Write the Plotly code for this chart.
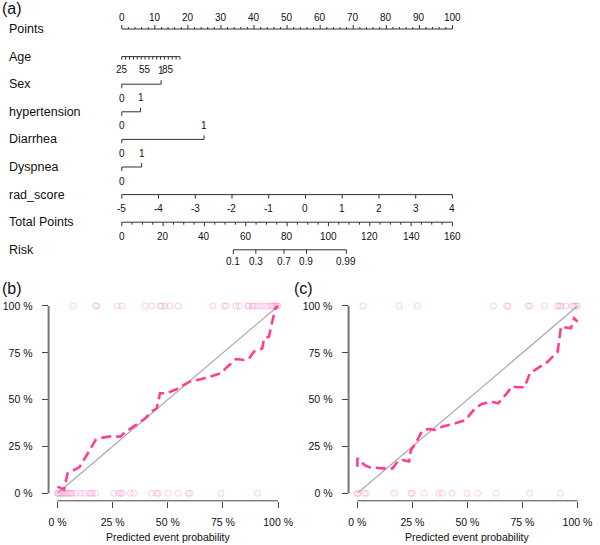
import math
import plotly.graph_objects as go

W, H = 600, 545
FONT = "Liberation Sans, Arial, sans-serif"

# ---------------- Nomogram data ----------------
row_names = ["Points", "Age", "Sex", "hypertension", "Diarrhea", "Dyspnea",
             "rad_score", "Total Points", "Risk"]

points_major = list(range(0, 101, 10))
points_minor = list(range(0, 101, 2))

age_min, age_max = 25, 100
age_max_points = 17.6
age_tick_values = list(range(25, 101, 5))
age_label_values = [25, 55, 85]

binary_vars = ["Sex", "hypertension", "Diarrhea", "Dyspnea"]
binary_points = [11.9, 5.7, 24.9, 6.0]

rad_min, rad_max = -5, 4
rad_ticks = [-5, -4, -3, -2, -1, 0, 1, 2, 3, 4]
rad_max_points = 100

total_points_max = 160
total_major = list(range(0, 161, 20))
total_minor = list(range(0, 161, 5))

risk_ticks = [0.1, 0.3, 0.7, 0.9, 0.99]
risk_labels = ["0.1", "0.3", "0.7", "0.9", "0.99"]
lp_intercept = -8.904
lp_slope = 0.1242

# ---------------- Calibration data ----------------
b_line_x = [0, 0.03, 0.046, 0.10, 0.136, 0.173, 0.19, 0.248, 0.285, 0.31, 0.368, 0.398,
            0.427, 0.45, 0.465, 0.495, 0.547, 0.599, 0.65, 0.696, 0.74, 0.77, 0.809,
            0.846, 0.868, 0.89, 0.928, 0.936, 0.958, 0.973, 0.988, 1.0]
b_line_y = [0.036, 0.02, 0.107, 0.14, 0.21, 0.285, 0.294, 0.306, 0.302, 0.33, 0.374, 0.40,
            0.436, 0.454, 0.534, 0.534, 0.56, 0.596, 0.609, 0.623, 0.64, 0.676, 0.717,
            0.712, 0.72, 0.756, 0.774, 0.827, 0.836, 0.916, 0.988, 1.0]
b_pred_event1 = [0.072, 0.173, 0.178, 0.271, 0.293, 0.398, 0.427, 0.465, 0.472, 0.487, 0.51,
                 0.547, 0.704, 0.756, 0.764, 0.809, 0.824, 0.861, 0.868, 0.883, 0.891, 0.906,
                 0.921, 0.936, 0.951, 0.966, 0.973, 0.981, 0.988, 0.996, 1.0]
b_pred_event0 = [0.0, 0.002, 0.006, 0.012, 0.018, 0.024, 0.031, 0.039, 0.046, 0.054, 0.061,
                 0.069, 0.084, 0.106, 0.121, 0.143, 0.151, 0.158, 0.173, 0.256, 0.278, 0.286,
                 0.293, 0.33, 0.345, 0.427, 0.45, 0.457, 0.502, 0.547, 0.592, 0.6, 0.741, 0.906]

c_line_x = [0.0, 0.0, 0.033, 0.055, 0.115, 0.16, 0.183, 0.205, 0.235, 0.243, 0.265, 0.288,
            0.303, 0.325, 0.355, 0.385, 0.445, 0.49, 0.535, 0.565, 0.61, 0.64, 0.685, 0.70,
            0.73, 0.76, 0.783, 0.82, 0.865, 0.91, 0.925, 0.97, 0.985, 1.0]
c_line_y = [0.142, 0.187, 0.15, 0.139, 0.133, 0.133, 0.17, 0.178, 0.17, 0.23, 0.267, 0.32,
            0.338, 0.343, 0.338, 0.356, 0.374, 0.391, 0.454, 0.477, 0.489, 0.48, 0.543, 0.57,
            0.566, 0.566, 0.64, 0.667, 0.703, 0.756, 0.89, 0.881, 0.934, 0.916]
c_pred_event1 = [0.025, 0.19, 0.273, 0.618, 0.678, 0.685, 0.775, 0.783, 0.85, 0.91, 0.918,
                 0.925, 0.948, 0.978, 0.985, 0.993, 1.0]
c_pred_event0 = [0.0, 0.003, 0.033, 0.04, 0.168, 0.243, 0.25, 0.303, 0.37, 0.385, 0.43,
                 0.498, 0.547, 0.63, 0.783, 0.922]

cal_ticks = [0, 0.25, 0.5, 0.75, 1.0]
cal_ticktext = ["0 %", "25 %", "50 %", "75 %", "100 %"]

# ---------------- layout geometry ----------------
NOMO_X0, NOMO_X1 = 123, 457          # px of Points 0 and 100
PX_PER_PT = (NOMO_X1 - NOMO_X0) / 100.0
x_lo = -NOMO_X0 / PX_PER_PT
x_hi = x_lo + W / PX_PER_PT
ROW_Y0, ROW_DY = 29, 27.6
row_y = [ROW_Y0 + i * ROW_DY for i in range(len(row_names))]

fig = go.Figure()
LINE_C = "#303030"
TXT_C = "#111111"

seg_x, seg_y = [], []
annots = []


def seg(x0, y0, x1, y1):
    seg_x.extend([x0, x1, None])
    seg_y.extend([y0, y1, None])


def label(x, y, t, size=10, xref="x", xanchor="center"):
    annots.append(dict(x=x, y=y, xref=xref, yref="y", text=t, showarrow=False,
                       xanchor=xanchor, yanchor="middle",
                       font=dict(size=size, color=TXT_C, family=FONT)))


# row names
for name, y in zip(row_names, row_y):
    label(7 / W, y, name, size=12.5, xref="paper", xanchor="left")

# Points axis (ticks up, labels above)
y = row_y[0]
seg(0, y, 100, y)
for v in points_minor:
    seg(v, y, v, y - (4 if v in points_major else 2))
for v in points_major:
    label(v, y - 12, str(v))

# Age
y = row_y[1]
age_pts = lambda a: (a - age_min) / (age_max - age_min) * age_max_points
seg(age_pts(age_min), y, age_pts(age_max), y)
for a in age_tick_values:
    seg(age_pts(a), y, age_pts(a), y + 3)
for a in age_label_values:
    label(age_pts(a), y + 13, str(a))

# binary variables
for name, pts in zip(binary_vars, binary_points):
    y = row_y[row_names.index(name)]
    seg(0, y, pts, y)
    seg(0, y, 0, y + 4)
    seg(pts, y, pts, y - 4)
    label(0, y + 14, "0")
    label(pts, y - 14, "1")

# rad_score
y = row_y[6]
rad_pts = lambda r: (r - rad_min) / (rad_max - rad_min) * rad_max_points
seg(rad_pts(rad_min), y, rad_pts(rad_max), y)
for r in rad_ticks:
    seg(rad_pts(r), y, rad_pts(r), y + 4)
    label(rad_pts(r), y + 14, str(r))

# Total points
y = row_y[7]
tp_pts = lambda t: t * 100.0 / total_points_max
seg(0, y, 100, y)
for t in total_minor:
    seg(tp_pts(t), y, tp_pts(t), y + (4 if t in total_major else 2.5))
for t in total_major:
    label(tp_pts(t), y + 14, str(t))

# Risk
y = row_y[8]
risk_tp = [(math.log(p / (1 - p)) - lp_intercept) / lp_slope for p in risk_ticks]
seg(tp_pts(risk_tp[0]), y, tp_pts(risk_tp[-1]), y)
for t, lab in zip(risk_tp, risk_labels):
    seg(tp_pts(t), y, tp_pts(t), y + 4)
    label(tp_pts(t), y + 12, lab)

fig.add_trace(go.Scatter(x=seg_x, y=seg_y, mode="lines", xaxis="x", yaxis="y",
                         line=dict(color=LINE_C, width=1), hoverinfo="skip",
                         showlegend=False))

# ---------------- calibration panels ----------------
PINK = "#FF3D94"
CIRC = "rgba(255,120,190,0.38)"


def add_cal(xa, ya, lx, ly, e1, e0):
    fig.add_trace(go.Scatter(x=e1, y=[1] * len(e1), mode="markers", xaxis=xa, yaxis=ya,
                             marker=dict(symbol="circle-open", size=6, color=CIRC,
                                         line=dict(width=1)),
                             showlegend=False, cliponaxis=False))
    fig.add_trace(go.Scatter(x=e0, y=[0] * len(e0), mode="markers", xaxis=xa, yaxis=ya,
                             marker=dict(symbol="circle-open", size=6, color=CIRC,
                                         line=dict(width=1)),
                             showlegend=False, cliponaxis=False))
    fig.add_trace(go.Scatter(x=[0, 1], y=[0, 1], mode="lines", xaxis=xa, yaxis=ya,
                             line=dict(color="#A8A8A8", width=1.2), showlegend=False))
    fig.add_trace(go.Scatter(x=lx, y=ly, mode="lines", xaxis=xa, yaxis=ya,
                             line=dict(color=PINK, width=2.6, dash="10px,5px"),
                             showlegend=False, cliponaxis=False))


add_cal("x2", "y2", b_line_x, b_line_y, b_pred_event1, b_pred_event0)
add_cal("x3", "y3", c_line_x, c_line_y, c_pred_event1, c_pred_event0)

Y_TOP_PX, Y_BOT_PX = 298.5, 500.8
ydom = [1 - Y_BOT_PX / H, 1 - Y_TOP_PX / H]

cal_axis = dict(range=[-0.04, 1.04], tickvals=cal_ticks, ticktext=cal_ticktext,
                ticks="outside", ticklen=6, tickwidth=1, tickcolor="#444",
                showgrid=False, zeroline=False, showline=False,
                tickfont=dict(size=10.5, color=TXT_C, family=FONT), fixedrange=True)

fig.update_layout(
    width=W, height=H,
    margin=dict(l=0, r=0, t=0, b=0),
    paper_bgcolor="white", plot_bgcolor="rgba(0,0,0,0)",
    font=dict(family=FONT, color=TXT_C),
    xaxis=dict(range=[x_lo, x_hi], domain=[0, 1], visible=False, fixedrange=True),
    yaxis=dict(range=[H, 0], domain=[0, 1], visible=False, fixedrange=True),
    xaxis2=dict(cal_axis, domain=[49.1 / W, 289.9 / W], anchor="y2", ticklabelstandoff=6),
    yaxis2=dict(cal_axis, domain=ydom, anchor="x2", ticklabelstandoff=7),
    xaxis3=dict(cal_axis, domain=[352.1 / W, 592.2 / W], anchor="y3", ticklabelstandoff=6),
    yaxis3=dict(cal_axis, domain=ydom, anchor="x3", ticklabelstandoff=7),
)

shapes = []
for xa, ya in [("x2", "y2"), ("x3", "y3")]:
    # x axis line from first to last tick
    shapes.append(dict(type="line", xref=xa, yref=ya + " domain", x0=0, x1=1, y0=0, y1=0,
                       line=dict(color="#444", width=1)))
    # y axis line
    shapes.append(dict(type="line", xref=xa + " domain", yref=ya, x0=0, x1=0, y0=0, y1=1,
                       line=dict(color="#777", width=2)))
fig.update_layout(shapes=shapes)

# axis titles and panel labels
for xa in ["x2", "x3"]:
    annots.append(dict(x=0.5, y=1 - 537 / H, xref=xa, yref="paper",
                       text="Predicted event probability", showarrow=False,
                       xanchor="center", yanchor="middle",
                       font=dict(size=10.5, color=TXT_C, family=FONT)))
for t, px, py in [("(a)", 0, 8), ("(b)", 0, 288), ("(c)", 295, 288)]:
    annots.append(dict(x=px / W, y=1 - py / H, xref="paper", yref="paper", text=t,
                       showarrow=False, xanchor="left", yanchor="middle",
                       font=dict(size=16, color=TXT_C, family=FONT)))

fig.update_layout(annotations=annots)
fig.write_html("out.html", config={"displayModeBar": False},
               post_script="document.body.style.margin='0px';"
                           "document.body.style.overflow='hidden';")
